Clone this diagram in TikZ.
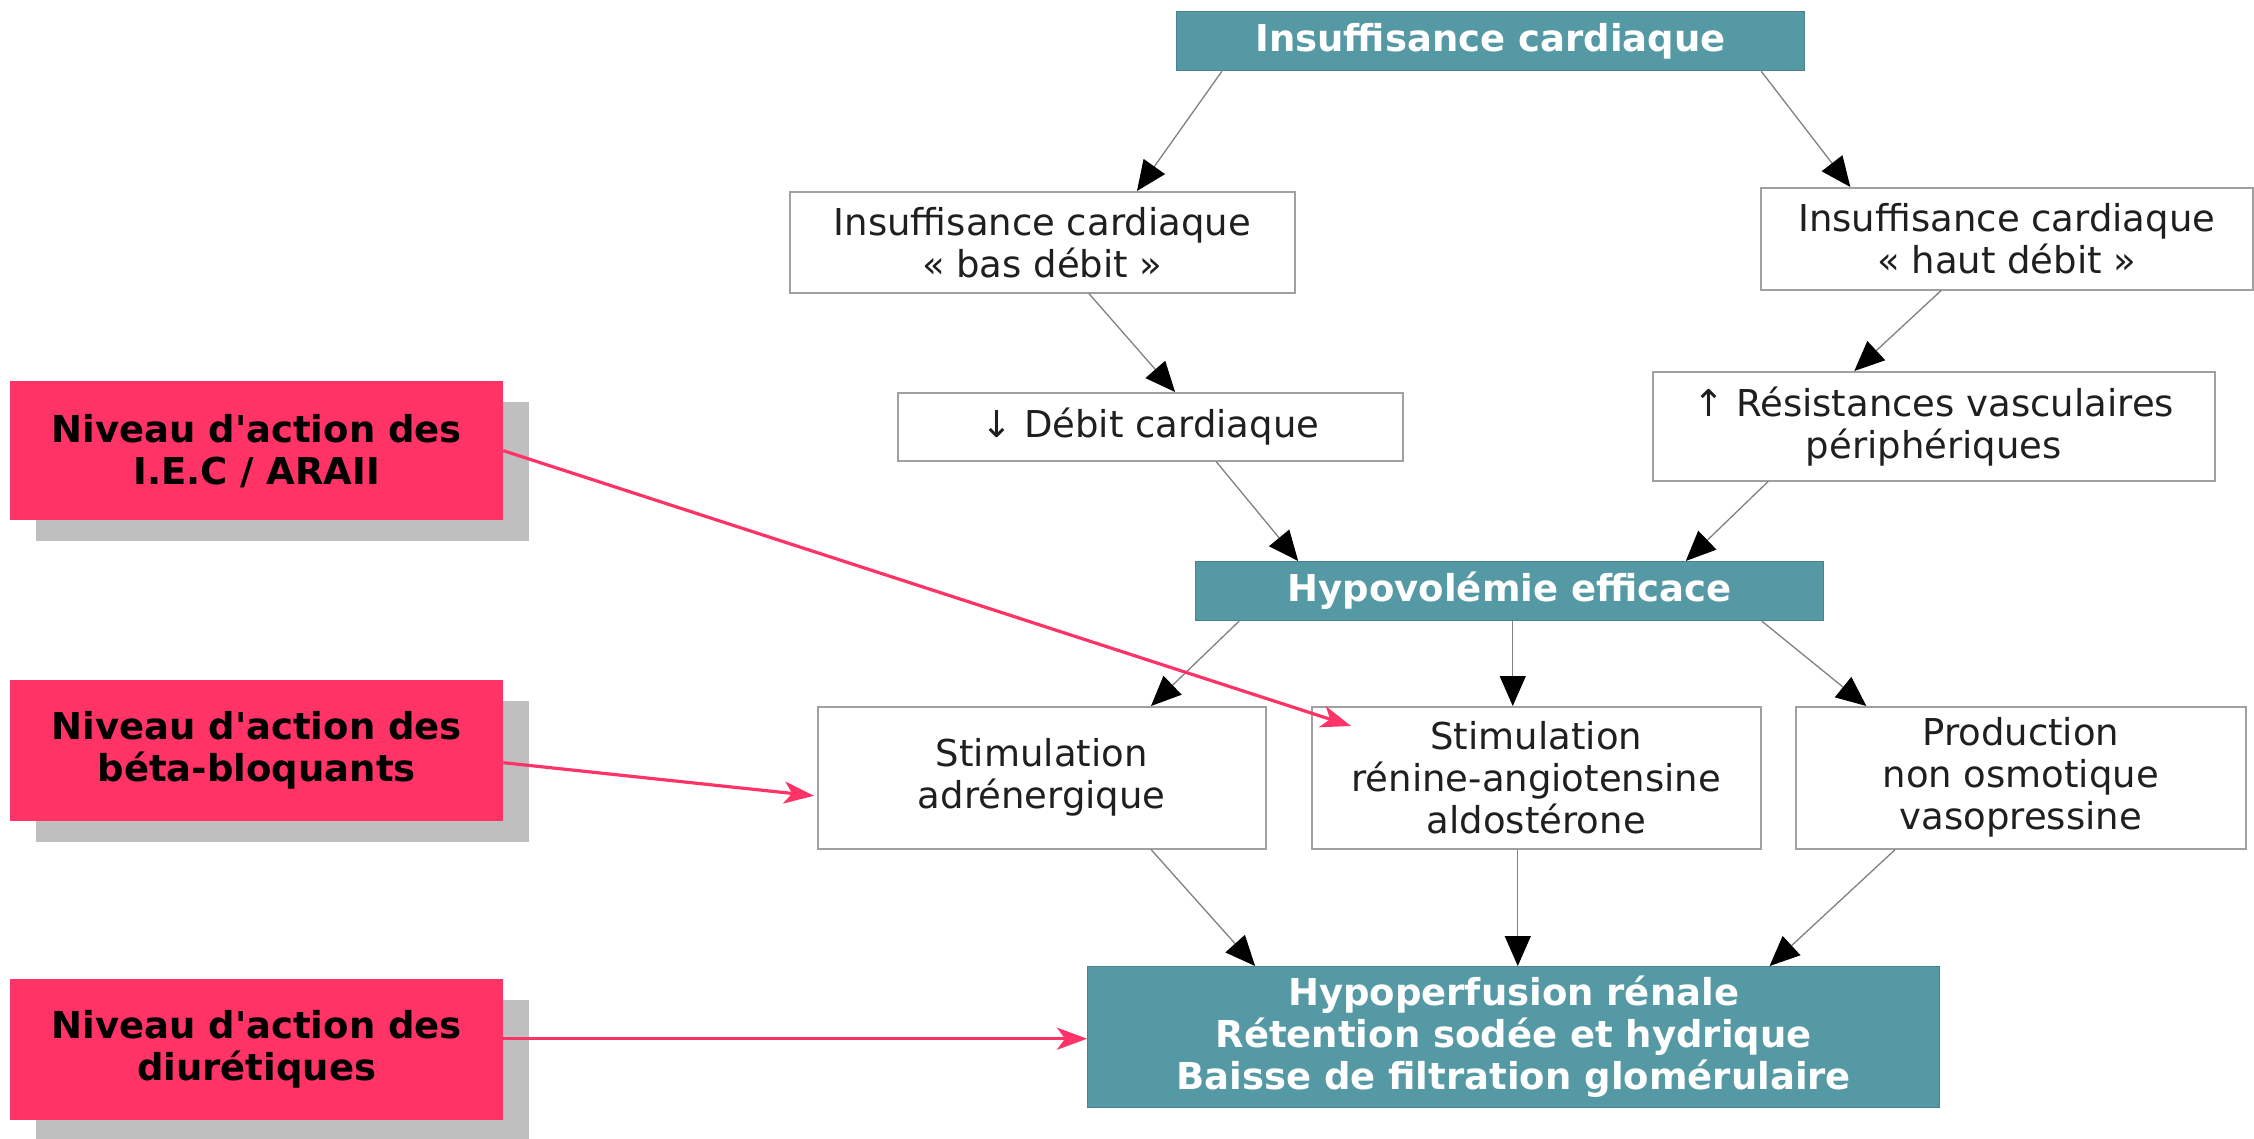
\documentclass[tikz,border=0pt]{standalone}
\usepackage{fontspec}
\setmainfont{DejaVu Sans}
\usetikzlibrary{arrows.meta,calc,shadows}
\definecolor{tealfill}{HTML}{5599A5}
\definecolor{pinkfill}{HTML}{FF3366}
\definecolor{shadowgray}{HTML}{BFBFBF}
\definecolor{framegray}{HTML}{A0A0A0}
\definecolor{linegray}{HTML}{808080}

\begin{document}
\begin{tikzpicture}[x=1pt,y=-1pt,
  base/.style={anchor=north west, inner sep=0pt, align=center,
    font=\fontsize{37}{42}\selectfont},
  tealbox/.style={base, fill=tealfill, draw=tealfill!85!black, line width=1.2pt,
    text=white, font=\fontsize{37}{42}\selectfont\bfseries},
  plainbox/.style={base, fill=white, draw=framegray, line width=1.5pt, text=black!88},
  actionbox/.style={base, fill=pinkfill, text=black,
    font=\fontsize{37}{42}\selectfont\bfseries,
    drop shadow={shadow xshift=26pt, shadow yshift=-21pt, fill=shadowgray, opacity=1}},
  flow/.style={draw=linegray, line width=1.3pt,
    -{Triangle[length=30pt, width=26pt, color=black]}},
  action/.style={draw=pinkfill, line width=3.2pt,
    -{Stealth[length=30pt, width=22pt, inset=8pt]}},
]
\useasboundingbox (0,0) rectangle (2254,1138);

% main chain
\node[tealbox, minimum width=628pt, minimum height=59pt] (ic) at (1176,11) {Insuffisance cardiaque};
\node[plainbox, minimum width=505pt, minimum height=101pt] (bas) at (789,191) {Insuffisance cardiaque\\« bas débit »};
\node[plainbox, minimum width=492pt, minimum height=102pt] (haut) at (1760,187) {Insuffisance cardiaque\\« haut débit »};
\node[plainbox, minimum width=505pt, minimum height=68pt] (debit) at (897,392) {↓ Débit cardiaque};
\node[plainbox, minimum width=562pt, minimum height=109pt] (res) at (1652,371) {↑ Résistances vasculaires\\périphériques};
\node[tealbox, minimum width=628pt, minimum height=59pt] (hypo) at (1195,561) {Hypovolémie efficace};
\node[plainbox, minimum width=448pt, minimum height=142pt] (adr) at (817,706) {Stimulation\\adrénergique};
\node[plainbox, minimum width=449pt, minimum height=142pt] (ren) at (1311,706) {Stimulation\\rénine-angiotensine\\aldostérone};
\node[plainbox, minimum width=450pt, minimum height=142pt] (prod) at (1795,706) {Production\\non osmotique\\vasopressine};
\node[tealbox, minimum width=852pt, minimum height=141pt] (hp) at (1087,966) {Hypoperfusion rénale\\Rétention sodée et hydrique\\Baisse de filtration glomérulaire};

% drug action levels
\node[actionbox, minimum width=493pt, minimum height=139pt] (iec) at (10,381) {Niveau d\textquotesingle action des\\I.E.C / ARAII};
\node[actionbox, minimum width=493pt, minimum height=141pt] (beta) at (10,680) {Niveau d\textquotesingle action des\\béta-bloquants};
\node[actionbox, minimum width=493pt, minimum height=141pt] (diur) at (10,979) {Niveau d\textquotesingle action des\\diurétiques};

% flow connectors
\draw[flow] ($(ic.south west)!0.073!(ic.south east)$) -- ($(bas.north west)!0.687!(bas.north east)$);
\draw[flow] ($(ic.south west)!0.93!(ic.south east)$) -- ($(haut.north west)!0.183!(haut.north east)$);
\draw[flow] ($(bas.south west)!0.592!(bas.south east)$) -- ($(debit.north west)!0.549!(debit.north east)$);
\draw[flow] ($(haut.south west)!0.367!(haut.south east)$) -- ($(res.north west)!0.359!(res.north east)$);
\draw[flow] ($(debit.south west)!0.63!(debit.south east)$) -- ($(hypo.north west)!0.164!(hypo.north east)$);
\draw[flow] ($(res.south west)!0.206!(res.south east)$) -- ($(hypo.north west)!0.78!(hypo.north east)$);
\draw[flow] ($(hypo.south west)!0.07!(hypo.south east)$) -- ($(adr.north west)!0.743!(adr.north east)$);
\coordinate (hmid) at ($(hypo.south west)!0.505!(hypo.south east)$);
\draw[flow] (hmid) -- (hmid |- ren.north);
\draw[flow] ($(hypo.south west)!0.901!(hypo.south east)$) -- ($(prod.north west)!0.158!(prod.north east)$);
\draw[flow] ($(adr.south west)!0.743!(adr.south east)$) -- ($(hp.north west)!0.197!(hp.north east)$);
\coordinate (rmid) at ($(ren.south west)!0.459!(ren.south east)$);
\draw[flow] (rmid) -- (rmid |- hp.north);
\draw[flow] ($(prod.south west)!0.222!(prod.south east)$) -- ($(hp.north west)!0.8!(hp.north east)$);

% action pointers
\draw[action] (iec.east) -- ($(ren.north west)+(40,20)$);
\draw[action] ($(beta.east)+(0,12)$) -- ($(adr.west)+(-3,18)$);
\coordinate (d0) at ($(diur.east)+(0,-11)$);
\draw[action] (d0) -- (d0 -| hp.west);
\end{tikzpicture}
\end{document}
